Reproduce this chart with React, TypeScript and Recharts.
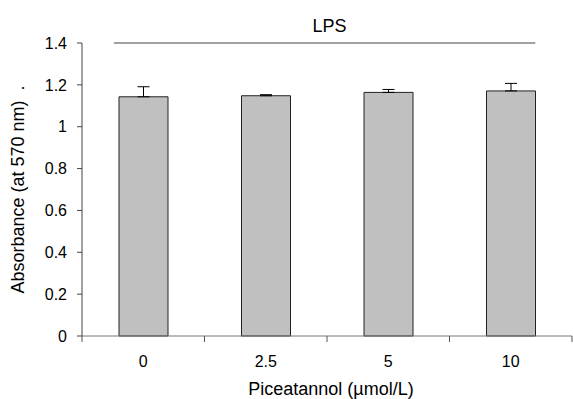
import React from "react";
import {
  BarChart,
  Bar,
  XAxis,
  YAxis,
  ErrorBar,
  ReferenceLine,
  Label,
} from "recharts";

const categories = ["0", "2.5", "5", "10"];
const categoryCenters = [0.5, 1.5, 2.5, 3.5];
const absorbance = [1.143, 1.148, 1.164, 1.171];
const sem = [0.048, 0.005, 0.014, 0.036];
const yTicks = [0, 0.2, 0.4, 0.6, 0.8, 1, 1.2, 1.4];
const lpsSpan = [0.26, 3.7];
const lpsLevel = 1.4;

const data = categories.map((c, i) => ({
  dose: c,
  pos: categoryCenters[i],
  value: absorbance[i],
  err: [0, sem[i]],
}));

const FONT = "'Liberation Sans', Arial, sans-serif";

const XTick = (props: any) => {
  const { x, y, payload, index } = props;
  const off = payload && typeof payload.offset === "number" && payload.offset > 0 ? payload.offset : 61.3;
  return (
    <g>
      <line x1={x + off} y1={y} x2={x + off} y2={y + 6} stroke="#555" strokeWidth={1} />
      {index === 0 ? (
        <line x1={x - off} y1={y} x2={x - off} y2={y + 6} stroke="#555" strokeWidth={1} />
      ) : null}
      <text x={x} y={y + 31} textAnchor="middle" fontSize={16} fontFamily={FONT} fill="#000">
        {payload.value}
      </text>
    </g>
  );
};

export default function App() {
  return (
    <div style={{ position: "absolute", left: 0, top: 0, background: "#fff" }}>
      <BarChart
        width={573}
        height={399}
        data={data}
        margin={{ top: 43, right: 1, left: 0, bottom: 0 }}
        barCategoryGap={0}
      >
        <XAxis
          dataKey="dose"
          height={63}
          tickSize={0}
          tickMargin={0}
          tickLine={false}
          axisLine={{ stroke: "#777", strokeWidth: 1 }}
          tick={<XTick />}
          interval={0}
        >
          <Label
            value="Piceatannol (µmol/L)"
            position="insideBottom"
            offset={4}
            dx={4}
            fontSize={18}
            fontFamily={FONT}
            fill="#000"
          />
        </XAxis>
        <XAxis
          xAxisId="lps"
          dataKey="pos"
          type="number"
          scale="linear"
          domain={[0, 4]}
          allowDataOverflow
          hide
        />
        <YAxis
          width={82}
          domain={[0, 1.4]}
          ticks={yTicks}
          interval={0}
          tickSize={5}
          tickMargin={10}
          axisLine={{ stroke: "#444", strokeWidth: 1 }}
          tickLine={{ stroke: "#444", strokeWidth: 1 }}
          tick={{ fontSize: 16, fontFamily: FONT, fill: "#000" }}
        >
          <Label
            value={"Absorbance (at 570 nm)\u00a0\u00a0."}
            angle={-90}
            position="center"
            dx={-23}
            fontSize={18}
            fontFamily={FONT}
            fill="#000"
          />
        </YAxis>
        <ReferenceLine
          xAxisId="lps"
          segment={[
            { x: lpsSpan[0], y: lpsLevel },
            { x: lpsSpan[1], y: lpsLevel },
          ]}
          stroke="#444"
          strokeWidth={1.2}
          ifOverflow="visible"
        >
          <Label value="LPS" position="top" offset={11} dx={5} fontSize={18} fontFamily={FONT} fill="#000" />
        </ReferenceLine>
        <Bar
          dataKey="value"
          fill="#c0c0c0"
          stroke="#222"
          strokeWidth={1}
          barSize={49}
          isAnimationActive={false}
        >
          <ErrorBar dataKey="err" direction="y" width={6} stroke="#000" strokeWidth={1} isAnimationActive={false} />
        </Bar>
      </BarChart>
    </div>
  );
}
